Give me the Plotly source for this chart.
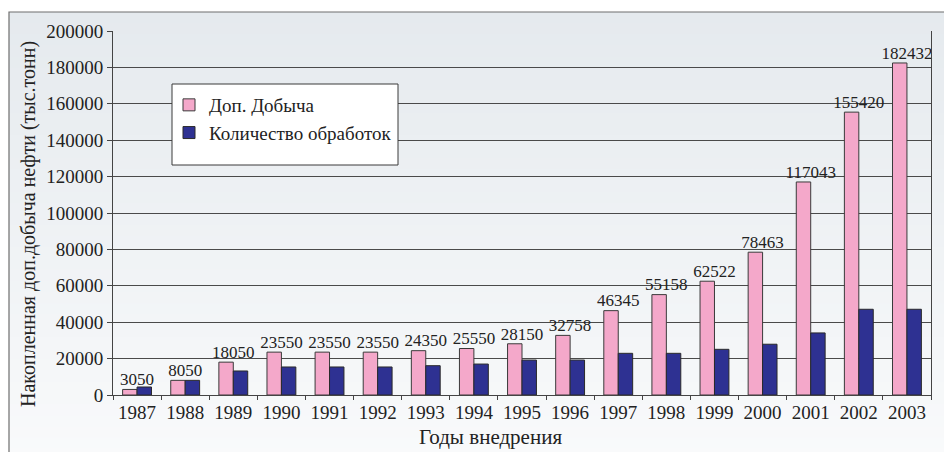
import plotly.graph_objects as go

years = ["1987", "1988", "1989", "1990", "1991", "1992", "1993", "1994", "1995",
         "1996", "1997", "1998", "1999", "2000", "2001", "2002", "2003"]
dop_dobycha = [3050, 8050, 18050, 23550, 23550, 23550, 24350, 25550, 28150,
               32758, 46345, 55158, 62522, 78463, 117043, 155420, 182432]
kol_obrabotok = [4400, 8050, 13200, 15400, 15400, 15400, 16100, 17000, 19200,
                 19200, 22900, 22900, 25100, 27900, 34100, 47100, 47100]
y_ticks = [0, 20000, 40000, 60000, 80000, 100000, 120000, 140000, 160000, 180000, 200000]

# page body adds an 8px offset; design in reference pixel coordinates
OFF = 8
W, H = 952 - OFF, 452 - OFF
L, R, T, B = 113 - OFF, 21, 31 - OFF, 57
PW, PH = W - L - R, H - T - B


def px(x):
    return (x - OFF - L) / PW


def py(y):
    return (H - B - (y - OFF)) / PH


FONT = "Liberation Serif"

fig = go.Figure()
fig.add_trace(go.Bar(x=years, y=dop_dobycha, name="Доп. Добыча", legendgroup="a",
                     marker=dict(color="#f4a8ca", line=dict(color="#3a3a3a", width=1))))
fig.add_trace(go.Bar(x=years, y=kol_obrabotok, name="Количество обработок", legendgroup="b",
                     marker=dict(color="#2e3192", line=dict(color="#2a2a2a", width=1))))
fig.add_trace(go.Scatter(x=years, y=dop_dobycha, mode="text", text=[str(v) for v in dop_dobycha],
                         textposition="top center", showlegend=False, hoverinfo="skip",
                         cliponaxis=False,
                         textfont=dict(family=FONT, size=17, color="#222")))

shapes = []
# gradient background inside frame
top_c = (0xe5, 0xea, 0xee)
bot_c = (0xf9, 0xfa, 0xfb)
n = 40
y_top, y_bot = 12, 460
for i in range(n):
    t = i / (n - 1)
    c = tuple(int(round(top_c[k] + (bot_c[k] - top_c[k]) * t)) for k in range(3))
    ya = y_top + (y_bot - y_top) * i / n
    yb = y_top + (y_bot - y_top) * (i + 1) / n + 1
    shapes.append(dict(type="rect", xref="paper", yref="paper", layer="below",
                       x0=px(9), x1=px(965), y0=py(ya), y1=py(yb),
                       fillcolor="rgb(%d,%d,%d)" % c, line=dict(width=0)))
# frame
shapes.append(dict(type="rect", xref="paper", yref="paper", layer="below",
                   x0=px(9), x1=px(965), y0=py(12), y1=py(465),
                   fillcolor="rgba(0,0,0,0)", line=dict(color="#6e6e6e", width=1.2)))
# legend box
shapes.append(dict(type="rect", xref="paper", yref="paper", layer="above",
                   x0=px(172), x1=px(398), y0=py(84), y1=py(165),
                   fillcolor="white", line=dict(color="#3a3a3a", width=1)))

annotations = [
    dict(x=px(490), y=py(437), xref="paper", yref="paper",
         text="Годы внедрения", showarrow=False,
         xanchor="center", yanchor="middle",
         font=dict(family=FONT, size=21, color="#222")),
    dict(x=px(28), y=py(224), xref="paper", yref="paper",
         text="Накопленная доп.добыча нефти (тыс.тонн)", showarrow=False,
         textangle=-90, xanchor="center", yanchor="middle",
         font=dict(family=FONT, size=20, color="#222")),
]

fig.update_layout(
    width=W, height=H,
    margin=dict(l=L, r=R, t=T, b=B),
    paper_bgcolor="white",
    plot_bgcolor="rgba(0,0,0,0)",
    barmode="group", bargap=0.4, bargroupgap=0,
    font=dict(family=FONT, size=19, color="#222"),
    shapes=shapes,
    annotations=annotations,
    showlegend=True,
    legend=dict(x=px(169), y=py(86), xanchor="left", yanchor="top",
                bgcolor="rgba(0,0,0,0)", borderwidth=0,
                font=dict(family=FONT, size=19, color="#222"),
                tracegroupgap=0),
    xaxis=dict(type="category", range=[-0.5, len(years) - 0.5], showline=True,
               linecolor="#444", linewidth=1,
               ticks="outside", tickson="boundaries", ticklen=4, tickcolor="#444",
               tickfont=dict(family=FONT, size=19, color="#222"), showgrid=False),
    yaxis=dict(range=[0, 200000], tickvals=y_ticks, tickformat="d", showline=True, mirror=True,
               linecolor="#444", linewidth=1, ticks="outside", ticklen=5,
               tickcolor="#444", showgrid=True, gridcolor="#4a4a4a", gridwidth=1,
               zeroline=False, tickfont=dict(family=FONT, size=19, color="#222")),
)

fig.write_html("out.html")
